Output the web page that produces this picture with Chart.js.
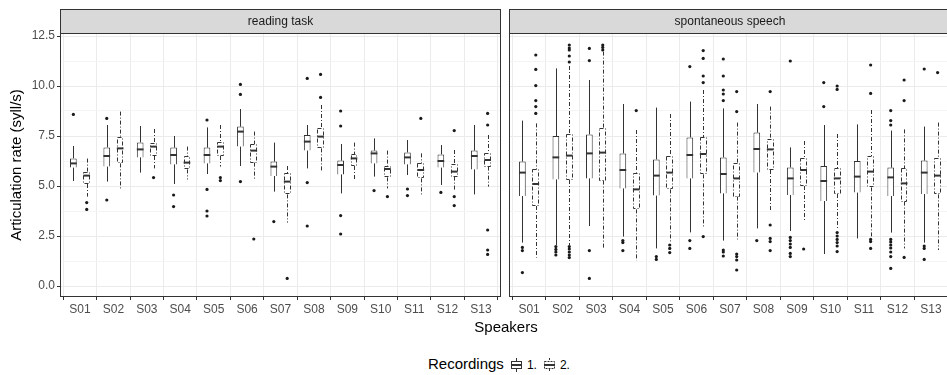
<!DOCTYPE html>
<html>
<head>
<meta charset="utf-8">
<script src="https://cdn.jsdelivr.net/npm/chart.js@4.4.0/dist/chart.umd.min.js"></script>
<style>
body{margin:0;background:#fff;width:947px;height:375px;overflow:hidden;position:relative;font-family:"Liberation Sans",Arial,sans-serif;}
#c1{position:absolute;left:0;top:0;}
#c2{position:absolute;left:505px;top:0;}
#xtitle{position:absolute;left:0;width:1012px;top:318px;text-align:center;font-size:15px;line-height:18px;color:#000;}
#legend{position:absolute;left:428px;top:355px;font-size:15px;line-height:18px;color:#000;white-space:nowrap;}
#legend canvas{vertical-align:middle;margin:0 5px 0 6px;}
#legend .k{font-size:12px;}
</style>
</head>
<body>
<canvas id="c1" width="505" height="320"></canvas>
<canvas id="c2" width="450" height="320"></canvas>
<div id="xtitle">Speakers</div>
<div id="legend">Recordings<canvas id="k1" width="12" height="16"></canvas><span class="k">1.</span><canvas id="k2" width="12" height="16"></canvas><span class="k">2.</span></div>
<script>

// ==========================
// DATA
// ==========================

const speakers = ["S01","S02","S03","S04","S05","S06","S07","S08","S09","S10","S11","S12","S13"];
const yTicks = [0, 2.5, 5, 7.5, 10, 12.5];

// reading task, recording 1
const read1Low  = [5.25, 5.22, 5.67, 5.10, 5.60, 6.00, 4.72, 5.88, 4.63, 5.47, 5.55, 5.05, 4.58];
const read1Q1   = [5.92, 5.97, 6.43, 6.08, 6.13, 6.97, 5.50, 6.77, 5.58, 6.13, 6.08, 5.92, 5.83];
const read1Med  = [6.13, 6.50, 6.83, 6.55, 6.55, 7.72, 5.97, 7.22, 6.05, 6.63, 6.43, 6.25, 6.50];
const read1Q3   = [6.38, 6.93, 7.18, 6.92, 6.92, 7.97, 6.22, 7.55, 6.27, 6.77, 6.68, 6.58, 6.77];
const read1High = [7.00, 8.05, 8.00, 7.50, 7.93, 8.85, 7.17, 8.05, 7.10, 7.38, 7.30, 7.05, 8.05];
const read1Out  = [[8.58],[8.38,4.3],[],[4.55,3.97],[8.3,4.83,3.75,3.5],[10.08,9.58,5.22],[3.22],
                   [10.38,5.17,3.0],[8.75,8.0,3.52,2.6],[4.77],[4.85,4.52],[4.68],[]];

// reading task, recording 2
const read2Low  = [4.47, 4.80, 5.88, 5.33, 5.97, 5.27, 3.17, 5.72, 5.33, 4.88, 4.52, 4.80, 4.97];
const read2Q1   = [5.10, 6.13, 6.50, 5.83, 6.50, 6.17, 4.58, 6.88, 6.00, 5.43, 5.38, 5.47, 5.97];
const read2Med  = [5.52, 6.88, 6.97, 6.17, 6.97, 6.77, 5.22, 7.47, 6.38, 5.85, 5.80, 5.72, 6.30];
const read2Q3   = [5.72, 7.43, 7.17, 6.50, 7.22, 7.10, 5.63, 7.92, 6.58, 6.00, 6.13, 6.10, 6.67];
const read2High = [6.37, 8.72, 7.85, 6.97, 8.05, 7.72, 6.00, 9.05, 7.17, 6.77, 6.63, 6.80, 7.55];
const read2Out  = [[4.17,3.83],[],[5.42],[],[5.42,5.27],[2.35],[0.38],[10.58,9.43],[],[4.47],[8.38],
                   [7.77,4.47,4.02],[8.63,8.05,2.8,1.8,1.58]];

// spontaneous speech, recording 1
const spont1Low  = [2.17, 2.05, 3.00, 2.47, 1.88, 2.68, 2.27, 2.88, 2.75, 1.60, 2.38, 2.67, 2.17];
const spont1Q1   = [4.50, 5.33, 5.38, 4.88, 4.52, 5.38, 4.63, 5.67, 4.55, 4.25, 4.67, 4.50, 4.60];
const spont1Med  = [5.67, 6.43, 6.63, 5.80, 5.52, 6.55, 5.60, 6.85, 5.38, 5.25, 5.47, 5.43, 5.67];
const spont1Q3   = [6.22, 7.50, 7.58, 6.63, 6.33, 7.43, 6.43, 7.67, 5.93, 6.00, 6.25, 5.92, 6.27];
const spont1High = [8.27, 10.88, 10.30, 9.10, 8.92, 9.22, 8.88, 9.10, 6.93, 8.05, 8.08, 7.77, 7.97];
const spont1Out  = [[1.93,1.77,0.67],[1.97,1.83,1.7,1.55],[11.88,11.27,1.77,0.38],[2.27,2.17,1.77],
                    [1.47,1.33],[10.97,2.27,1.88],[11.35,10.5,9.8,9.6,9.27,1.8,1.7,1.5],[2.27],
                    [11.25,2.43,2.27,2.1,1.93,1.63,1.47],[10.17,8.97],[],
                    [8.77,8.27,8.05,2.33,2.2,2.05,1.9,1.7,1.47,0.88],[10.85,2.0,1.88,1.33]];

// spontaneous speech, recording 2
const spont2Low  = [1.42, 2.05, 1.88, 1.27, 2.22, 2.97, 2.33, 3.80, 3.27, 2.83, 2.47, 1.88, 1.80];
const spont2Q1   = [4.00, 5.30, 5.27, 3.83, 4.83, 5.58, 4.47, 5.80, 5.00, 4.60, 4.93, 4.22, 4.58];
const spont2Med  = [5.10, 6.52, 6.67, 4.83, 5.67, 6.60, 5.38, 6.83, 5.80, 5.38, 5.72, 5.13, 5.52];
const spont2Q3   = [5.83, 7.60, 7.88, 5.67, 6.52, 7.43, 6.17, 7.33, 6.42, 5.88, 6.50, 5.88, 6.38];
const spont2High = [8.13, 11.00, 11.72, 7.80, 8.60, 9.80, 8.17, 8.97, 7.25, 7.60, 8.80, 7.83, 8.17];
const spont2Out  = [[11.55,10.83,10.02,9.27,8.97,8.63],[12.05,11.9,11.8,11.5,11.2,1.97,1.85,1.7,1.55,1.42],
                    [12.05,11.93,11.8],[8.77],[2.05,1.88,1.67],[11.77,11.38,10.5,10.17,2.47],
                    [9.72,8.72,1.6,1.47,1.3,0.8],[9.72,3.05,2.38,2.22,1.77],[1.85],
                    [10.0,9.83,2.67,2.5,2.33,2.17,2.0,1.72],[11.05,9.63,2.33,2.22,1.88],[10.3,9.27,1.43],[10.67]];

Chart.defaults.font.family = '"Liberation Sans", Arial, sans-serif';

const ink = "#333333";
const twodash = [4, 2, 1, 2];

// ==========================
// BOX PARTS PLUGIN (strip, whiskers, medians, panel border)
// ==========================

const boxParts = {
    id: "boxParts",
    beforeDraw(chart, args, opts){
        const a = chart.chartArea;
        const ctx = chart.ctx;
        ctx.save();
        ctx.fillStyle = "#d9d9d9";
        ctx.fillRect(a.left, a.top - 24, a.right - a.left, 24);
        ctx.strokeStyle = ink;
        ctx.lineWidth = 1;
        ctx.strokeRect(a.left + 0.5, a.top - 23.5, a.right - a.left - 1, 24);
        ctx.fillStyle = "#1a1a1a";
        ctx.font = '12px "Liberation Sans", Arial, sans-serif';
        ctx.textAlign = "center";
        ctx.textBaseline = "middle";
        ctx.fillText(opts.strip, (a.left + a.right) / 2, a.top - 11.5);
        ctx.restore();
    },
    afterDatasetsDraw(chart){
        const ctx = chart.ctx;
        const y = chart.scales.y;
        ctx.save();
        ctx.strokeStyle = ink;
        chart.data.datasets.forEach((ds, di) => {
            if(!ds.med) return;
            const meta = chart.getDatasetMeta(di);
            meta.data.forEach((bar, i) => {
                const x = Math.round(bar.x) + 0.5;
                const half = bar.width / 2;
                const lo = y.getPixelForValue(ds.low[i]);
                const q1 = y.getPixelForValue(ds.data[i].y[0]);
                const q3 = y.getPixelForValue(ds.data[i].y[1]);
                const hi = y.getPixelForValue(ds.high[i]);
                const md = y.getPixelForValue(ds.med[i]);

                ctx.lineWidth = 1;
                ctx.setLineDash(ds.dashed ? twodash : []);
                ctx.beginPath();
                ctx.moveTo(x, hi); ctx.lineTo(x, q3);
                ctx.moveTo(x, q1); ctx.lineTo(x, lo);
                ctx.stroke();

                if(ds.dashed){
                    const l = Math.round(bar.x - half) + 0.5;
                    const r = Math.round(bar.x + half) - 0.5;
                    ctx.strokeRect(l, Math.round(q3) + 0.5, r - l, Math.round(q1) - Math.round(q3) - 1);
                }

                ctx.setLineDash([]);
                ctx.lineWidth = 2;
                ctx.beginPath();
                ctx.moveTo(bar.x - half, md);
                ctx.lineTo(bar.x + half, md);
                ctx.stroke();
            });
        });
        ctx.restore();
    },
    afterDraw(chart){
        const a = chart.chartArea;
        const ctx = chart.ctx;
        ctx.save();
        ctx.strokeStyle = ink;
        ctx.lineWidth = 1;
        ctx.strokeRect(a.left + 0.5, a.top + 0.5, a.right - a.left - 1, a.bottom - a.top - 1);
        ctx.restore();
    }
};

// ==========================
// BUILD ONE PANEL
// ==========================

function recording(rec, low, q1, med, q3, high, out){
    const shift = rec === 1 ? -0.2 : 0.2;
    let pts = [];
    out.forEach((vals, i) => {
        vals.forEach(v => pts.push({x: i + 1 + shift, y: v}));
    });
    return [
        {
            type: "bar",
            label: "Recording " + rec,
            data: speakers.map((s, i) => ({x: i + 1, y: [q1[i], q3[i]]})),
            backgroundColor: "#ffffff",
            borderColor: ink,
            borderWidth: rec === 1 ? 1 : 0,
            categoryPercentage: 0.8,
            barPercentage: 0.5,
            low: low, med: med, high: high,
            dashed: rec === 2,
            order: 2
        },
        {
            type: "scatter",
            data: pts,
            pointRadius: 1.6,
            pointBackgroundColor: "#1a1a1a",
            pointBorderWidth: 0,
            order: 1
        }
    ];
}

function makePanel(id, strip, datasets, first){
    return new Chart(document.getElementById(id), {
        type: "bar",
        data: {datasets: datasets},
        plugins: [boxParts],
        options: {
            responsive: false,
            animation: false,
            layout: {padding: {top: 33, left: first ? 0 : 4, right: 3, bottom: 0}},
            plugins: {
                legend: {display: false},
                tooltip: {enabled: false},
                boxParts: {strip: strip}
            },
            scales: {
                x: {
                    type: "linear",
                    min: 0.4,
                    max: 13.6,
                    offset: false,
                    afterBuildTicks: (s) => { s.ticks = speakers.map((n, i) => ({value: i + 1})); },
                    afterFit: (s) => { s.height = 23; },
                    ticks: {
                        callback: (v) => speakers[v - 1],
                        color: "#4d4d4d",
                        font: {size: 12},
                        padding: 2,
                        maxRotation: 0,
                        autoSkip: false
                    },
                    grid: {color: "#ebebeb", tickLength: 3, tickColor: ink},
                    border: {display: false}
                },
                y: {
                    min: -0.55,
                    max: 12.65,
                    afterBuildTicks: (s) => {
                        let t = [];
                        yTicks.forEach((v, i) => {
                            t.push({value: v});
                            if(i < yTicks.length - 1) t.push({value: (v + yTicks[i + 1]) / 2});
                        });
                        s.ticks = t;
                    },
                    afterFit: (s) => { s.width = first ? 60 : 0; },
                    ticks: {
                        display: first,
                        callback: (v) => yTicks.includes(v) ? v.toFixed(1) : "",
                        color: "#4d4d4d",
                        font: {size: 12},
                        padding: 2
                    },
                    grid: {
                        color: (c) => yTicks.includes(c.tick.value) ? "#ebebeb" : "#f4f4f4",
                        tickLength: 3,
                        drawTicks: first,
                        tickColor: (c) => yTicks.includes(c.tick.value) ? ink : "rgba(0,0,0,0)"
                    },
                    border: {display: false},
                    title: {
                        display: first,
                        text: "Articulation rate (syll/s)",
                        color: "#000",
                        font: {size: 15},
                        padding: {top: 8, bottom: 0}
                    }
                }
            }
        }
    });
}

makePanel("c1", "reading task",
    recording(1, read1Low, read1Q1, read1Med, read1Q3, read1High, read1Out)
    .concat(recording(2, read2Low, read2Q1, read2Med, read2Q3, read2High, read2Out)), true);

makePanel("c2", "spontaneous speech",
    recording(1, spont1Low, spont1Q1, spont1Med, spont1Q3, spont1High, spont1Out)
    .concat(recording(2, spont2Low, spont2Q1, spont2Med, spont2Q3, spont2High, spont2Out)), false);

// ==========================
// LEGEND KEYS
// ==========================

function drawKey(id, dashed){
    const ctx = document.getElementById(id).getContext("2d");
    ctx.strokeStyle = ink;
    ctx.lineWidth = 1;
    ctx.setLineDash(dashed ? [2, 1] : []);
    ctx.beginPath();
    ctx.moveTo(6.5, 1); ctx.lineTo(6.5, 4);
    ctx.moveTo(6.5, 12); ctx.lineTo(6.5, 15);
    ctx.stroke();
    ctx.strokeRect(1.5, 4.5, 10, 7);
    ctx.setLineDash([]);
    ctx.lineWidth = 2;
    ctx.beginPath();
    ctx.moveTo(1, 8); ctx.lineTo(12, 8);
    ctx.stroke();
}

drawKey("k1", false);
drawKey("k2", true);

</script>
</body>
</html>
